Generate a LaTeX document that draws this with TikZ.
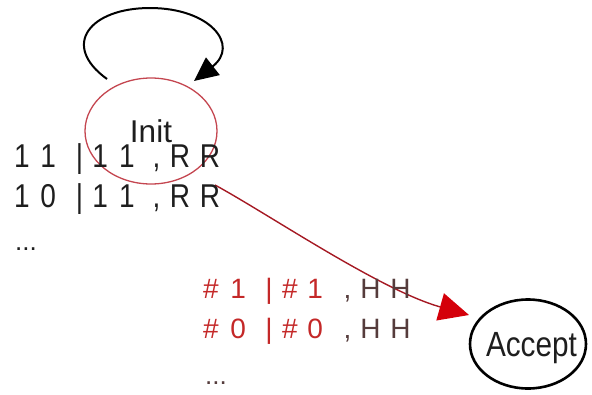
\documentclass[tikz,border=0pt]{standalone}
\usepackage{fontspec}
\setmainfont{Liberation Sans}
\newfontfamily\narrowsans[FakeStretch=0.85]{Liberation Sans}
\usetikzlibrary{arrows.meta,shapes.geometric}

\definecolor{inkgray}{RGB}{30,30,30}
\definecolor{stateline}{RGB}{196,70,80}
\definecolor{edgeline}{RGB}{165,25,35}
\definecolor{edgehead}{RGB}{212,0,10}
\definecolor{edgetext}{RGB}{196,40,40}
\definecolor{edgetextdark}{RGB}{85,60,60}

\begin{document}
\begin{tikzpicture}[x=1pt,y=-1pt,
  txt/.style={inner sep=0pt,anchor=base west,text=inkgray,
              font=\narrowsans\fontsize{33}{35}\selectfont},
  redtxt/.style={inner sep=0pt,anchor=base west,text=edgetext,
              font=\fontsize{28}{30}\selectfont},
  statenode/.style={ellipse,inner sep=0pt,text=inkgray,text depth=0pt,
              font=\fontsize{31.5}{33}\selectfont}]

\useasboundingbox (0,0) rectangle (592,394);

% states (the ellipse size is set by the minimum sizes alone)
\node[statenode,draw=stateline,line width=1.3pt,
      minimum width=132pt,minimum height=106pt] (init) at (151,131)
  {\makebox[0pt]{Init}};
\node[statenode,draw=black,line width=2.6pt,
      minimum width=116pt,minimum height=89pt,
      font=\narrowsans\fontsize{35}{37}\selectfont] (accept) at (528,344)
  {\makebox[0pt]{\hspace{7pt}Accept}};

% self loop on Init
\draw[black,line width=2pt,
      -{Triangle[length=24pt,width=22pt]}]
  ([shift={(-44,-52)}]init.center)
  .. controls (60,45) and (90,8) .. (150,8)
  .. controls (210,8) and (240,45) .. ([shift={(43,-50)}]init.center);

% transition Init -> Accept
\draw[edgeline,line width=1.4pt,
      -{Triangle[length=30pt,width=28pt,color=edgehead,fill=edgehead]}]
  ([shift={(64,54)}]init.center)
  .. controls (270,215) and (380,290) .. ([shift={(-59,-29)}]accept.center);

% loop labels
\node[txt] (l1) at (14,167)
  {1\hspace{10.5pt}1\hspace{20pt}|\hspace{9.3pt}1\hspace{11pt}1\hspace{18pt},\hspace{9.4pt}R\hspace{9.8pt}R};
\node[txt] (l2) at (14,207)
  {1\hspace{10.5pt}0\hspace{20pt}|\hspace{9.3pt}1\hspace{11pt}1\hspace{18pt},\hspace{9.4pt}R\hspace{9.8pt}R};
\node[inner sep=0pt,anchor=base west,text=inkgray,font=\fontsize{26}{28}\selectfont]
  (l3) at (15,250) {...};

% transition labels
\node[redtxt] (r1) at (203,298)
  {\#\hspace{11.7pt}1\hspace{19.4pt}|\hspace{9.5pt}\#\hspace{9.7pt}1\hspace{20.6pt}\textcolor{edgetextdark}{,\hspace{8.9pt}H\hspace{9.8pt}H}};
\node[redtxt] (r2) at (203,338)
  {\#\hspace{11.7pt}0\hspace{19.4pt}|\hspace{9.5pt}\#\hspace{9.7pt}0\hspace{20.6pt}\textcolor{edgetextdark}{,\hspace{8.9pt}H\hspace{9.8pt}H}};
\node[redtxt,text=edgetextdark,font=\fontsize{26}{28}\selectfont] (r3) at (205,384) {...};

\end{tikzpicture}
\end{document}
